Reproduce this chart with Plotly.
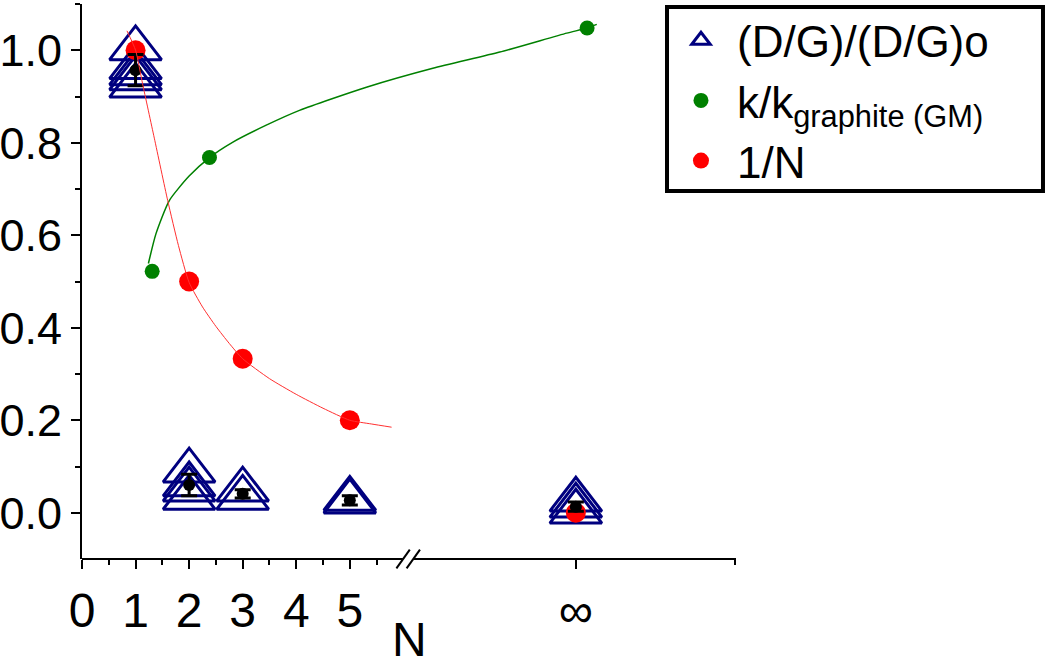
import plotly.graph_objects as go

# ---------------- data ----------------
INF_POS = 9.22  # axis position used for N = infinity (after the axis break)

x_tick_vals = [0, 1, 2, 3, 4, 5, INF_POS]
x_tick_text = ["0", "1", "2", "3", "4", "5", "\u221e"]
y_tick_vals = [0.0, 0.2, 0.4, 0.6, 0.8, 1.0]

N_pos = [1, 2, 3, 5, INF_POS]

# (D/G)/(D/G)o individual samples at each N
tri_N1 = [1.004, 0.963, 0.950, 0.939, 0.923]
tri_N2 = [0.091, 0.061, 0.050, 0.032]
tri_N3 = [0.050, 0.032]
tri_N5 = [0.030, 0.024]
tri_Ninf = [0.028, 0.015, 0.002]

# mean and error bars
mean_vals = [0.957, 0.060, 0.041, 0.027, 0.013]
mean_err = [0.034, 0.023, 0.009, 0.010, 0.010]

# 1/N points
inv_N = [1.0, 0.5, 0.333, 0.2, 0.0]

# red guide curve
red_curve_x = [0.84, 1.0, 1.13, 1.35, 1.6, 1.8, 2.0, 2.25, 2.5, 2.75, 3.0, 3.5, 4.0, 4.5, 5.0, 5.4, 5.78]
red_curve_y = [1.042, 1.0, 0.928, 0.81, 0.675, 0.578, 0.498, 0.445, 0.403, 0.366, 0.333, 0.290, 0.256, 0.226, 0.200, 0.192, 0.185]

# k/k_graphite (GM)
green_x = [1.31, 2.38, 9.43]
green_y = [0.522, 0.768, 1.048]

green_curve_x = [1.24, 1.38, 1.63, 2.0, 2.38, 2.81, 3.44, 4.06, 5.31, 6.55, 7.80, 9.05, 9.43, 9.61]
green_curve_y = [0.539, 0.603, 0.675, 0.728, 0.768, 0.801, 0.838, 0.870, 0.920, 0.961, 0.996, 1.037, 1.048, 1.056]

# ---------------- build ----------------
tri_groups = [tri_N1, tri_N2, tri_N3, tri_N5, tri_Ninf]
tri_x, tri_y = [], []
for pos, vals in zip(N_pos, tri_groups):
    tri_x += [pos] * len(vals)
    tri_y += vals

FONT = "Liberation Sans, Arial, Helvetica, sans-serif"
NAVY = "#00007f"
GREEN = "#008000"
RED = "#ff0000"

fig = go.Figure()

fig.add_trace(go.Scatter(
    x=tri_x, y=tri_y, mode="markers", name="(D/G)/(D/G)o", legendrank=1,
    marker=dict(symbol="triangle-up-open", size=45, color=NAVY, line=dict(width=3, color=NAVY)),
))
fig.add_trace(go.Scatter(
    x=N_pos, y=inv_N, mode="markers", name="1/N", legendrank=3,
    marker=dict(symbol="circle", size=20, color=RED),
))
fig.add_trace(go.Scatter(
    x=N_pos, y=mean_vals, mode="markers", showlegend=False,
    marker=dict(symbol="circle", size=12, color="black"),
    error_y=dict(type="data", array=mean_err, visible=True, color="black", thickness=3, width=8),
))
fig.add_trace(go.Scatter(
    x=green_x, y=green_y, mode="markers", name="k/k<sub>graphite (GM)</sub>", legendrank=2,
    marker=dict(symbol="circle", size=15, color=GREEN),
))
fig.add_trace(go.Scatter(
    x=green_curve_x, y=green_curve_y, mode="lines", showlegend=False,
    line=dict(color=GREEN, width=1.5, shape="spline", smoothing=0.6),
))
fig.add_trace(go.Scatter(
    x=red_curve_x, y=red_curve_y, mode="lines", showlegend=False,
    line=dict(color="#ff3030", width=1, shape="spline", smoothing=0.6),
))

# axis line with a break, drawn as shapes; legend frame as a rectangle
shapes = [
    dict(type="line", xref="x", yref="paper", x0=0, x1=5.99, y0=0, y1=0, line=dict(color="black", width=2)),
    dict(type="line", xref="x", yref="paper", x0=6.19, x1=12.21, y0=0, y1=0, line=dict(color="black", width=2)),
    dict(type="line", xref="x", yref="paper", x0=5.87, x1=6.12, y0=-0.017, y1=0.017, line=dict(color="black", width=2)),
    dict(type="line", xref="x", yref="paper", x0=6.06, x1=6.31, y0=-0.017, y1=0.017, line=dict(color="black", width=2)),
    dict(type="rect", xref="paper", yref="paper", x0=0.8945, x1=1.4694, y0=0.6631, y1=0.9946,
         line=dict(color="black", width=4), fillcolor="white", layer="below"),
]

fig.update_layout(
    width=1050, height=668, autosize=False,
    margin=dict(l=82, r=314, t=4, b=109),
    paper_bgcolor="white", plot_bgcolor="rgba(0,0,0,0)",
    font=dict(family=FONT, color="black"),
    shapes=shapes,
    showlegend=True,
    legend=dict(
        x=0.8914, y=0.998, xanchor="left", yanchor="top",
        bgcolor="rgba(0,0,0,0)", borderwidth=0,
        font=dict(family=FONT, size=44, color="black"),
        itemwidth=62,
    ),
    annotations=[dict(
        text="N", x=0.5, y=-0.145, xref="paper", yref="paper",
        xanchor="center", yanchor="middle", showarrow=False,
        font=dict(family=FONT, size=48, color="black"),
    )],
)

fig.update_xaxes(
    range=[0, 12.21], showgrid=False, zeroline=False, showline=False, automargin=False,
    tickmode="array", tickvals=x_tick_vals, ticktext=x_tick_text,
    ticks="outside", ticklen=9, tickwidth=2, tickcolor="black",
    tickfont=dict(family=FONT, size=48, color="black"),
    minor=dict(tickmode="array", tickvals=[0.5, 1.5, 2.5, 3.5, 4.5, 5.5, 12.2],
               ticks="outside", ticklen=5, tickwidth=2, tickcolor="black", showgrid=False),
)
fig.update_yaxes(
    range=[-0.1, 1.1], showgrid=False, zeroline=False, automargin=False,
    showline=True, linewidth=2, linecolor="black",
    tickmode="array", tickvals=y_tick_vals, tickformat=".1f",
    ticks="outside", ticklen=9, tickwidth=2, tickcolor="black",
    tickfont=dict(family=FONT, size=45, color="black"),
    minor=dict(tickmode="array", tickvals=[0.1, 0.3, 0.5, 0.7, 0.9, 1.1],
               ticks="outside", ticklen=5, tickwidth=2, tickcolor="black", showgrid=False),
)

fig.write_html("out.html", config={"displayModeBar": False},
               post_script="document.body.style.margin='0px';")
